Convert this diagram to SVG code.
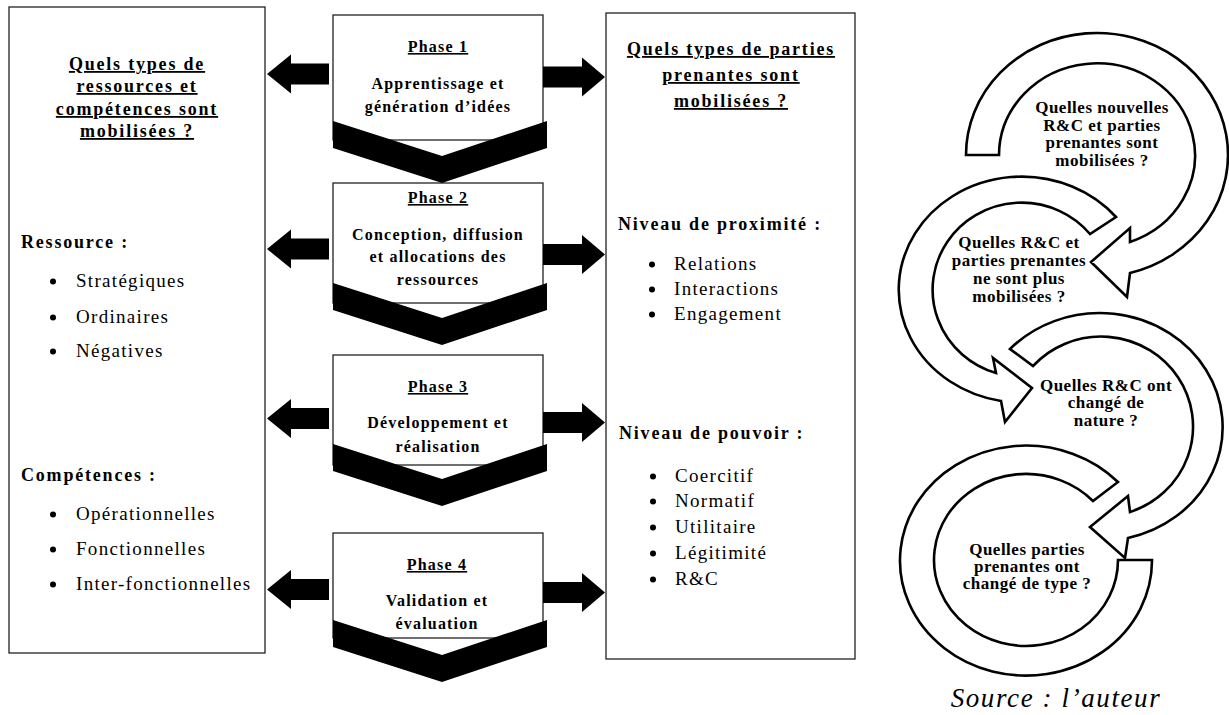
<svg xmlns="http://www.w3.org/2000/svg" width="1229" height="715" viewBox="0 0 1229 715">
<style>
  .box{fill:#fff;stroke:#222;stroke-width:1.3}
  .chev{fill:#000}
  .sa{fill:#000}
  .cyc{fill:#fff;stroke:#000;stroke-width:2.6;stroke-linejoin:miter}
  text{font-family:"Liberation Serif","Times New Roman",serif;fill:#000}
  .h{font-weight:bold;font-size:18px;letter-spacing:1.8px}
  .u{text-decoration:underline}
  .li{font-size:19px;letter-spacing:1.3px}
  .ph{font-weight:bold;font-size:16px;letter-spacing:1.2px;text-anchor:middle}
  .cq{font-weight:bold;font-size:17px;letter-spacing:0.5px;text-anchor:middle}
  .mid{text-anchor:middle}
  .src{font-style:italic;font-size:27px;letter-spacing:1.6px;text-anchor:middle}
</style>
<defs>
  <path id="arrL" d="M0,0 L24,-19.5 L24,-10.5 L62,-10.5 L62,10.5 L24,10.5 L24,19.5 Z"/>
  <path id="arrR" d="M0,0 L-23,-19.5 L-23,-10.5 L-62,-10.5 L-62,10.5 L-23,10.5 L-23,19.5 Z"/>
  <path id="chevron" d="M0,0 L109,35 L214,0 L214,27 L109,62 L0,27 Z"/>
</defs>

<g id="left-box">
  <rect class="box" x="9" y="7" width="256" height="646"/>
  <text class="h u mid" x="137" y="70">Quels types de</text>
  <text class="h u mid" x="137" y="92">ressources et</text>
  <text class="h u mid" x="137" y="115">compétences sont</text>
  <text class="h u mid" x="137" y="137">mobilisées ?</text>
  <text class="h" x="21" y="248">Ressource :</text>
  <circle cx="53" cy="281.5" r="3"/>
  <text class="li" x="76" y="287">Stratégiques</text>
  <circle cx="53" cy="317.5" r="3"/>
  <text class="li" x="76" y="323">Ordinaires</text>
  <circle cx="53" cy="351.5" r="3"/>
  <text class="li" x="76" y="357">Négatives</text>
  <text class="h" x="21" y="481">Compétences :</text>
  <circle cx="53" cy="514.5" r="3"/>
  <text class="li" x="76" y="520">Opérationnelles</text>
  <circle cx="53" cy="549.5" r="3"/>
  <text class="li" x="76" y="555">Fonctionnelles</text>
  <circle cx="53" cy="584.5" r="3"/>
  <text class="li" x="76" y="590">Inter-fonctionnelles</text>
</g>

<g id="right-box">
  <rect class="box" x="606" y="13" width="249" height="646"/>
  <text class="h u mid" x="731" y="55">Quels types de parties</text>
  <text class="h u mid" x="731" y="81">prenantes sont</text>
  <text class="h u mid" x="731" y="107">mobilisées ?</text>
  <text class="h" x="618" y="230">Niveau de proximité :</text>
  <circle cx="652" cy="264.5" r="3"/>
  <text class="li" x="674" y="270">Relations</text>
  <circle cx="652" cy="289.5" r="3"/>
  <text class="li" x="674" y="295">Interactions</text>
  <circle cx="652" cy="314.5" r="3"/>
  <text class="li" x="674" y="320">Engagement</text>
  <text class="h" x="619" y="439">Niveau de pouvoir :</text>
  <circle cx="653" cy="476.5" r="3"/>
  <text class="li" x="675" y="482">Coercitif</text>
  <circle cx="653" cy="501.5" r="3"/>
  <text class="li" x="675" y="507">Normatif</text>
  <circle cx="653" cy="527.5" r="3"/>
  <text class="li" x="675" y="533">Utilitaire</text>
  <circle cx="653" cy="553.5" r="3"/>
  <text class="li" x="675" y="559">Légitimité</text>
  <circle cx="653" cy="579.5" r="3"/>
  <text class="li" x="675" y="585">R&amp;C</text>
</g>

<g id="phase1">
  <rect class="box" x="333" y="15" width="210" height="125"/>
  <text class="ph u" x="438" y="52">Phase 1</text>
  <text class="ph" x="438" y="89">Apprentissage et</text>
  <text class="ph" x="438" y="112">génération d’idées</text>
</g>
<g id="phase2">
  <rect class="box" x="333" y="183" width="210" height="120"/>
  <text class="ph u" x="438" y="203">Phase 2</text>
  <text class="ph" x="438" y="240">Conception, diffusion</text>
  <text class="ph" x="438" y="262">et allocations des</text>
  <text class="ph" x="438" y="285">ressources</text>
</g>
<g id="phase3">
  <rect class="box" x="333" y="355" width="210" height="110"/>
  <text class="ph u" x="438" y="392">Phase 3</text>
  <text class="ph" x="438" y="428">Développement et</text>
  <text class="ph" x="438" y="452">réalisation</text>
</g>
<g id="phase4">
  <rect class="box" x="333" y="533" width="210" height="105"/>
  <text class="ph u" x="437" y="570">Phase 4</text>
  <text class="ph" x="437" y="606">Validation et</text>
  <text class="ph" x="437" y="629">évaluation</text>
</g>

<g id="connectors">
  <use href="#chevron" class="chev" x="333" y="121"/>
  <use href="#chevron" class="chev" x="333" y="283"/>
  <use href="#chevron" class="chev" x="333" y="444"/>
  <use href="#chevron" class="chev" x="333" y="620"/>
  <use href="#arrL" class="sa" x="267" y="74"/>
  <use href="#arrL" class="sa" x="267" y="249"/>
  <use href="#arrL" class="sa" x="267" y="418.5"/>
  <use href="#arrL" class="sa" x="267" y="589.5"/>
  <use href="#arrR" class="sa" x="605" y="77"/>
  <use href="#arrR" class="sa" x="605" y="254.5"/>
  <use href="#arrR" class="sa" x="605" y="422.5"/>
  <use href="#arrR" class="sa" x="605" y="592.5"/>
</g>

<g id="cycle">
  <g id="cycle1">
    <path class="cyc" d="M966,155 A131,122 0 1 1 1130,273 L1127,297 L1091,262 L1130,228 L1130,242 A98,92 0 1 0 999,155 Z"/>
    <text class="cq" x="1102" y="113">Quelles nouvelles</text>
    <text class="cq" x="1102" y="131">R&amp;C et parties</text>
    <text class="cq" x="1102" y="148">prenantes sont</text>
    <text class="cq" x="1102" y="166">mobilisées ?</text>
  </g>
  <g id="cycle2">
    <path class="cyc" d="M1116,217 A123,113 0 1 0 1001,401 L1005,422 L1032,388 L993,358 L996,373 A89,87 0 1 1 1090,234 Z"/>
    <text class="cq" x="1019" y="248">Quelles R&amp;C et</text>
    <text class="cq" x="1019" y="266">parties prenantes</text>
    <text class="cq" x="1019" y="284">ne sont plus</text>
    <text class="cq" x="1019" y="302">mobilisées ?</text>
  </g>
  <g id="cycle3">
    <path class="cyc" d="M1010,349 A123,114 0 1 1 1128,538 L1125,558 L1090,527 L1128,496 L1130,512 A92,90 0 1 0 1033,366 Z"/>
    <text class="cq" x="1106" y="391">Quelles R&amp;C ont</text>
    <text class="cq" x="1106" y="408">changé de</text>
    <text class="cq" x="1106" y="426">nature  ?</text>
  </g>
  <g id="cycle4">
    <path class="cyc" d="M1118,482 A126,115 0 1 0 1152,560 L1118,560 A92,86 0 1 1 1093,501 Z"/>
    <text class="cq" x="1027" y="555">Quelles parties</text>
    <text class="cq" x="1027" y="572">prenantes ont</text>
    <text class="cq" x="1027" y="589">changé de type ?</text>
  </g>
</g>

<text class="src" x="1056" y="707">Source : l’auteur</text>
</svg>
